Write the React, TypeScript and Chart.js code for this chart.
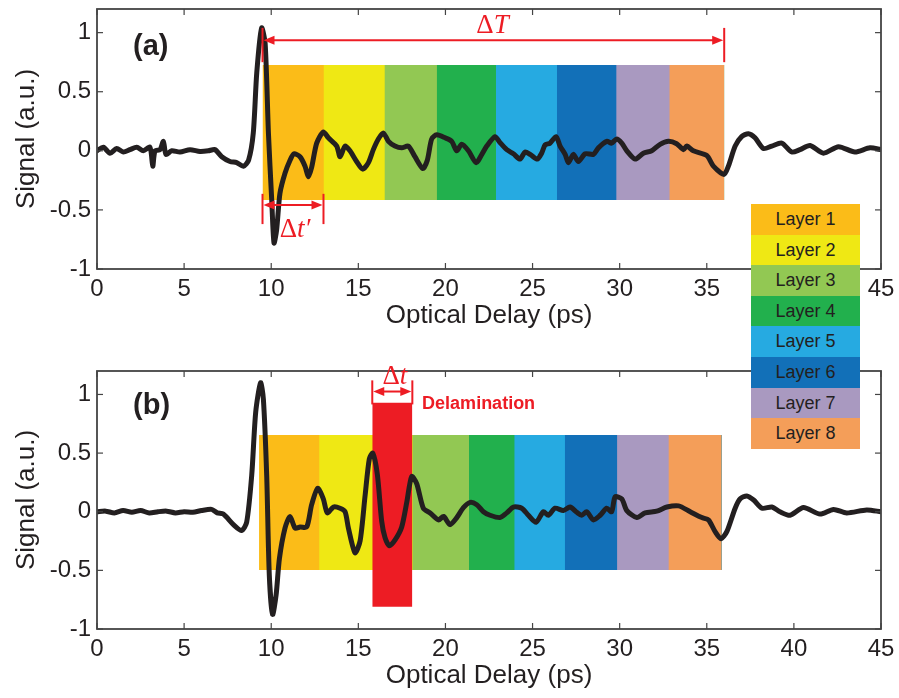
import React, { useEffect, useRef } from "react";
import { Chart, registerables } from "chart.js";

Chart.register(...registerables);

const SANS = "'Liberation Sans', Arial, Helvetica, sans-serif";
const SERIF = "'Liberation Serif', 'Times New Roman', serif";
const INK = "#231F20";
const RED = "#ED1C24";

const X_TICKS = [0, 5, 10, 15, 20, 25, 30, 35, 40, 45];
const Y_TICKS = [-1, -0.5, 0, 0.5, 1];
const X_MIN = 0;
const X_MAX = 45;
const Y_MIN = -1;
const Y_MAX = 1.2;

const layerNames = ["Layer 1", "Layer 2", "Layer 3", "Layer 4", "Layer 5", "Layer 6", "Layer 7", "Layer 8"];
const layerColors = ["#FBBC18", "#EFE814", "#92C853", "#22B04D", "#26AAE1", "#1270B8", "#A999C0", "#F49E59"];

// Panel (a)
const layerStartA = [9.5, 13.0, 16.5, 19.5, 22.9, 26.4, 29.8, 32.85];
const layerEndA = [13.0, 16.5, 19.5, 22.9, 26.4, 29.8, 32.85, 36.0];
const layerBandA = [-0.416, 0.726];

// Panel (b)
const layerStartB = [9.3, 12.75, 18.1, 21.35, 23.95, 26.85, 29.85, 32.8];
const layerEndB = [12.75, 15.8, 21.35, 23.95, 26.85, 29.85, 32.8, 35.85];
const layerBandB = [-0.497, 0.654];
const delamRangeB = [15.8, 18.1];
const delamBandB = [-0.81, 0.93];

const timeA = [0, 0.36, 0.75, 1.13, 1.51, 1.89, 2.28, 2.66, 3.04, 3.2, 3.33, 3.62, 3.81, 3.96, 4.29, 4.76, 5.34, 5.91, 6.39, 6.77, 7.16, 7.63, 8.02, 8.4, 8.7, 8.97, 9.17, 9.45, 9.65, 9.84, 10.03, 10.16, 10.31, 10.5, 10.79, 11.08, 11.3, 11.65, 11.94, 12.13, 12.32, 12.61, 12.99, 13.28, 13.76, 13.95, 14.24, 14.52, 14.9, 15.25, 15.58, 15.86, 16.15, 16.44, 16.73, 17.1, 17.49, 17.87, 18.25, 18.7, 18.96, 19.21, 19.5, 19.98, 20.36, 20.65, 20.93, 21.32, 21.76, 22.09, 22.37, 22.85, 23.13, 23.52, 23.9, 24.28, 24.57, 24.86, 25.27, 25.52, 25.72, 26.0, 26.35, 26.58, 26.87, 27.06, 27.34, 27.63, 28.02, 28.49, 28.78, 29.26, 29.54, 29.83, 30.12, 30.41, 30.89, 31.36, 31.84, 32.32, 32.8, 33.27, 33.66, 33.85, 34.23, 35.0, 35.38, 35.99, 36.24, 36.63, 37.0, 37.39, 37.77, 38.25, 38.73, 39.3, 39.88, 40.35, 40.93, 41.7, 42.56, 43.5, 44.37, 45];
const signalA = [0, 0.03, -0.02, 0.02, -0.01, 0.01, 0.03, 0, 0.03, -0.13, 0, 0.01, 0.08, -0.03, 0, -0.01, 0.01, -0.005, 0, 0.01, -0.05, -0.09, -0.1, -0.13, -0.08, 0.15, 0.66, 1.04, 0.91, 0.15, -0.42, -0.78, -0.67, -0.36, -0.19, -0.08, -0.025, -0.05, -0.13, -0.22, -0.14, 0.065, 0.16, 0.11, 0.04, -0.05, 0.04, 0, -0.09, -0.155, -0.1, 0.01, 0.1, 0.15, 0.08, 0.04, 0.025, 0.04, -0.05, -0.15, -0.08, 0.1, 0.135, 0.11, 0.08, 0, 0.055, 0, -0.1, -0.03, 0.04, 0.12, 0.07, 0.01, -0.025, -0.07, -0.01, -0.03, -0.07, -0.02, 0.05, 0.065, 0.12, 0.04, -0.03, -0.1, -0.03, -0.09, -0.025, -0.03, 0.025, 0.08, 0.065, 0.1, 0.065, 0, -0.07, -0.02, 0, 0.055, 0.08, 0.06, 0.01, 0.04, 0, -0.04, -0.13, -0.2, -0.13, 0.04, 0.12, 0.145, 0.11, 0.02, 0.04, 0.065, -0.01, 0.01, 0.045, -0.02, 0.035, -0.01, 0.025, 0.01];

const timeB = [0, 0.5, 1, 1.5, 2, 2.5, 3, 3.5, 4, 4.5, 5, 5.5, 6, 6.58, 6.9, 7.25, 7.83, 8.3, 8.59, 8.88, 9.11, 9.39, 9.55, 9.74, 9.89, 10.08, 10.28, 10.47, 10.79, 11.08, 11.37, 11.66, 12.04, 12.32, 12.67, 12.99, 13.22, 13.57, 13.95, 14.24, 14.43, 14.81, 15.1, 15.39, 15.63, 15.83, 16.09, 16.34, 16.53, 16.78, 17.11, 17.49, 17.78, 18.06, 18.35, 18.73, 19.12, 19.6, 19.89, 20.26, 20.65, 21.03, 21.42, 21.8, 22.18, 22.56, 23.13, 23.52, 23.9, 24.38, 24.76, 25.2, 25.62, 25.91, 26.29, 26.77, 27.15, 27.54, 27.82, 28.11, 28.49, 28.88, 29.26, 29.54, 29.74, 30.12, 30.41, 30.99, 31.46, 32.13, 32.71, 33.38, 34.05, 34.72, 35.1, 35.48, 35.81, 36.15, 36.63, 36.92, 37.3, 37.69, 38.17, 38.74, 39.2, 39.78, 40.55, 41.5, 42.27, 43.03, 44.18, 45];
const signalB = [0, 0.005, -0.01, 0.01, -0.005, 0.01, -0.01, 0, 0.005, -0.01, 0, -0.005, 0.01, 0.02, -0.01, -0.02, -0.11, -0.16, -0.09, 0.31, 0.85, 1.1, 0.96, 0.31, -0.54, -0.875, -0.71, -0.4, -0.14, -0.04, -0.14, -0.13, -0.13, 0.06, 0.2, 0.11, -0.01, 0.04, 0.03, 0, -0.14, -0.35, -0.25, 0.14, 0.45, 0.5, 0.32, -0.08, -0.22, -0.29, -0.24, -0.13, 0.08, 0.3, 0.24, 0.03, -0.01, -0.07, -0.04, -0.11, -0.05, 0.035, 0.08, 0.06, 0, -0.03, -0.05, -0.01, 0.04, 0.03, -0.03, -0.09, 0, -0.03, 0.03, 0.01, 0.04, -0.005, -0.03, 0, -0.07, -0.03, 0.03, 0, 0.127, 0.11, 0.01, -0.05, -0.01, 0.005, 0.04, 0.05, 0, -0.05, -0.07, -0.17, -0.23, -0.17, 0.03, 0.11, 0.135, 0.1, 0.03, 0.04, 0, -0.03, 0.035, -0.02, 0.02, -0.01, 0.015, 0];

type Span = { x1: number; x2: number; yArrow: number; yTop: number; yBot: number; sym: string; it: string; tx: number; ty: number };
type PanelCfg = {
  time: number[]; signal: number[]; layerStart: number[]; layerEnd: number[]; band: number[];
  delam?: number[]; delamBand?: number[];
  label: string; labelAt: number[]; spans: Span[]; note?: { text: string; x: number; y: number };
  padTop: number; padBottom: number;
};

const panelA: PanelCfg = {
  time: timeA, signal: signalA, layerStart: layerStartA, layerEnd: layerEndA, band: layerBandA,
  label: "(a)", labelAt: [2.07, 0.88],
  spans: [
    { x1: 9.5, x2: 36.0, yArrow: 0.935, yTop: 1.04, yBot: 0.75, sym: "\u0394", it: "T", tx: 22.7, ty: 1.0 },
    { x1: 9.5, x2: 13.0, yArrow: -0.458, yTop: -0.364, yBot: -0.62, sym: "\u0394", it: "t\u2032", tx: 11.37, ty: -0.73 },
  ],
  padTop: 9, padBottom: 14,
};

const panelB: PanelCfg = {
  time: timeB, signal: signalB, layerStart: layerStartB, layerEnd: layerEndB, band: layerBandB,
  delam: delamRangeB, delamBand: delamBandB,
  label: "(b)", labelAt: [2.07, 0.9],
  spans: [{ x1: 15.8, x2: 18.1, yArrow: 1.025, yTop: 1.12, yBot: 0.915, sym: "\u0394", it: "t", tx: 17.1, ty: 1.085 }],
  note: { text: "Delamination", x: 18.66, y: 0.873 },
  padTop: 26, padBottom: 7,
};

function drawOverlay(chart: any, p: PanelCfg) {
  const { ctx, chartArea } = chart;
  const { left, right, top, bottom } = chartArea;
  const X = (v: number) => chart.scales.x.getPixelForValue(v);
  const Y = (v: number) => chart.scales.y.getPixelForValue(v);
  const seg = (a: number, b: number, c: number, d: number) => {
    ctx.beginPath(); ctx.moveTo(a, b); ctx.lineTo(c, d); ctx.stroke();
  };
  ctx.save();
  // frame
  ctx.strokeStyle = "#444444";
  ctx.lineWidth = 1.8;
  ctx.strokeRect(left, top, right - left, bottom - top);
  ctx.lineWidth = 1.2;
  X_TICKS.forEach((v) => { const x = X(v); seg(x, bottom, x, bottom - 6); seg(x, top, x, top + 6); });
  Y_TICKS.forEach((v) => { const y = Y(v); seg(left, y, left + 6, y); seg(right, y, right - 6, y); });
  // panel label
  ctx.fillStyle = INK;
  ctx.font = `bold 29px ${SANS}`;
  ctx.textAlign = "left";
  ctx.textBaseline = "middle";
  ctx.fillText(p.label, X(p.labelAt[0]), Y(p.labelAt[1]));
  // spans
  ctx.strokeStyle = RED;
  ctx.fillStyle = RED;
  p.spans.forEach((s) => {
    const a = X(s.x1), b = X(s.x2), ya = Y(s.yArrow);
    ctx.lineWidth = 2;
    seg(a, Y(s.yTop), a, Y(s.yBot));
    seg(b, Y(s.yTop), b, Y(s.yBot));
    const ah = 11, aw = 4.5;
    seg(a + ah - 1, ya, b - ah + 1, ya);
    ctx.beginPath(); ctx.moveTo(a + 1, ya); ctx.lineTo(a + 1 + ah, ya - aw); ctx.lineTo(a + 1 + ah, ya + aw); ctx.closePath(); ctx.fill();
    ctx.beginPath(); ctx.moveTo(b - 1, ya); ctx.lineTo(b - 1 - ah, ya - aw); ctx.lineTo(b - 1 - ah, ya + aw); ctx.closePath(); ctx.fill();
    ctx.textBaseline = "alphabetic";
    ctx.textAlign = "left";
    const f1 = `27px ${SERIF}`, f2 = `italic 27px ${SERIF}`;
    ctx.font = f1; const w1 = ctx.measureText(s.sym).width;
    ctx.font = f2; const w2 = ctx.measureText(s.it).width;
    const x0 = X(s.tx) - (w1 + w2) / 2;
    ctx.font = f1; ctx.fillText(s.sym, x0, Y(s.ty));
    ctx.font = f2; ctx.fillText(s.it, x0 + w1, Y(s.ty));
  });
  if (p.note) {
    ctx.font = `bold 18px ${SANS}`;
    ctx.textAlign = "left";
    ctx.textBaseline = "alphabetic";
    ctx.fillText(p.note.text, X(p.note.x), Y(p.note.y));
  }
  ctx.restore();
}

function buildConfig(p: PanelCfg): any {
  const datasets: any[] = [
    {
      label: "Signal",
      data: p.time.map((t, i) => ({ x: t, y: p.signal[i] })),
      borderColor: INK, borderWidth: 5, pointRadius: 0, tension: 0.25, fill: false, order: 0,
      borderJoinStyle: "round", borderCapStyle: "round",
    },
  ];
  if (p.delam && p.delamBand) {
    datasets.push({
      label: "Delamination",
      data: [{ x: p.delam[0], y: p.delamBand[1] }, { x: p.delam[1], y: p.delamBand[1] }],
      borderColor: "rgba(0,0,0,0)", borderWidth: 0, backgroundColor: RED, pointRadius: 0,
      fill: { value: p.delamBand[0] }, order: 1,
    });
  }
  // Each layer is filled from its start to the end of the stack; later layers are
  // painted over earlier ones, so every layer shows exactly [start, end] with no seams.
  const stackEnd = p.layerEnd[p.layerEnd.length - 1];
  p.layerStart.forEach((s, i) => {
    datasets.push({
      label: layerNames[i],
      data: [{ x: s, y: p.band[1] }, { x: i === p.layerStart.length - 1 ? p.layerEnd[i] : stackEnd, y: p.band[1] }],
      borderColor: "rgba(0,0,0,0)", borderWidth: 0, backgroundColor: layerColors[i], pointRadius: 0,
      fill: { value: p.band[0] }, order: 20 - i,
    });
  });
  return {
    type: "line",
    data: { datasets },
    options: {
      responsive: false,
      animation: false,
      devicePixelRatio: 1,
      layout: { padding: { left: 0, right: 18, top: p.padTop, bottom: p.padBottom } },
      plugins: { legend: { display: false }, tooltip: { enabled: false } },
      scales: {
        x: {
          type: "linear", min: X_MIN, max: X_MAX,
          afterBuildTicks: (s: any) => { s.ticks = X_TICKS.map((v) => ({ value: v })); },
          afterFit: (s: any) => { s.height = 62; s.paddingLeft = 0; s.paddingRight = 0; },
          grid: { display: false, drawTicks: false },
          border: { display: false },
          ticks: { font: { family: SANS, size: 24 }, color: INK, padding: 6, maxRotation: 0, autoSkip: false, callback: (v: any) => String(v) },
          title: { display: true, text: "Optical Delay (ps)", font: { family: SANS, size: 26 }, color: INK, padding: 0 },
        },
        y: {
          type: "linear", min: Y_MIN, max: Y_MAX,
          afterBuildTicks: (s: any) => { s.ticks = Y_TICKS.map((v) => ({ value: v })); },
          afterFit: (s: any) => { s.width = 97; s.paddingTop = 0; s.paddingBottom = 0; },
          grid: { display: false, drawTicks: false },
          border: { display: false },
          ticks: { font: { family: SANS, size: 24 }, color: INK, padding: 6, autoSkip: false, callback: (v: any) => String(v) },
          title: { display: true, text: "Signal (a.u.)", font: { family: SANS, size: 26 }, color: INK, padding: { top: 11, bottom: 0 } },
        },
      },
    },
    plugins: [{ id: "overlay", afterDraw: (c: any) => drawOverlay(c, p) }],
  };
}

function Panel({ top, height, cfg }: { top: number; height: number; cfg: PanelCfg }) {
  const ref = useRef<HTMLCanvasElement>(null);
  useEffect(() => {
    if (!ref.current) return;
    const chart = new Chart(ref.current, buildConfig(cfg));
    return () => chart.destroy();
  }, [cfg]);
  return (
    <canvas ref={ref} width={899} height={height}
      style={{ position: "absolute", left: 0, top, width: 899, height, display: "block" }} />
  );
}

function LayerLegend() {
  return (
    <div style={{ position: "absolute", left: 751, top: 204, width: 109 }}>
      {layerNames.map((n, i) => (
        <div key={n} style={{
          height: 30.6, lineHeight: "30.6px", background: layerColors[i], color: INK,
          fontFamily: SANS, fontSize: 18, textAlign: "center",
        }}>{n}</div>
      ))}
    </div>
  );
}

export default function App() {
  return (
    <div style={{ position: "absolute", left: 0, top: 0, width: 899, height: 698, background: "#ffffff", overflow: "hidden" }}>
      <Panel top={0} height={345} cfg={panelA} />
      <Panel top={345} height={353} cfg={panelB} />
      <LayerLegend />
    </div>
  );
}
